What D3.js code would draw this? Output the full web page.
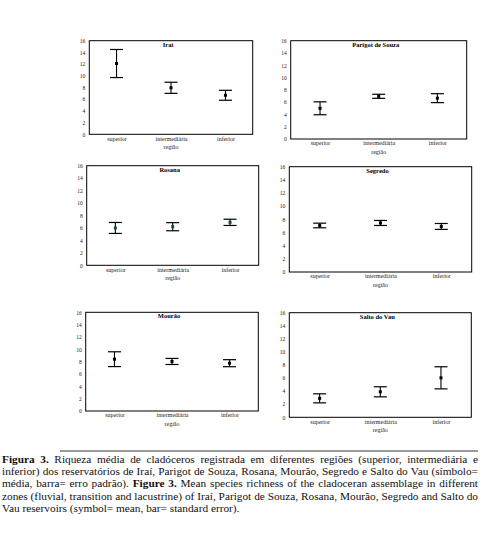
<!DOCTYPE html>
<html>
<head>
<meta charset="utf-8">
<script src="https://cdn.jsdelivr.net/npm/d3@7"></script>
<style>
  body { margin: 0; background: #fff; }
  svg { display: block; }
  svg text { font-family: 'Liberation Serif', 'Times New Roman', serif; }
</style>
</head>
<body>
<script>
// data
const regions = ['superior', 'intermediária', 'inferior']
const reservoirs = ['Iraí', 'Parigot de Souza', 'Rosana', 'Segredo', 'Mourão', 'Salto do Vau']
const yTicks = [0, 2, 4, 6, 8, 10, 12, 14, 16]

const meanIrai = [12.1, 7.95, 6.67]
const seIrai = [2.4, 0.95, 0.85]
const meanParigot = [5.0, 6.95, 6.65]
const seParigot = [1.05, 0.33, 0.73]
const meanRosana = [6.0, 6.2, 6.9]
const seRosana = [0.88, 0.65, 0.5]
const meanSegredo = [7.07, 7.45, 6.92]
const seSegredo = [0.35, 0.38, 0.45]
const meanMourao = [8.4, 8.03, 7.75]
const seMourao = [1.2, 0.49, 0.57]
const meanSalto = [2.9, 3.9, 6.04]
const seSalto = [0.69, 0.77, 1.69]

const means = [meanIrai, meanParigot, meanRosana, meanSegredo, meanMourao, meanSalto]
const errors = [seIrai, seParigot, seRosana, seSegredo, seMourao, seSalto]

// frame of each panel: left, top, right, bottom
const frames = [
    [89.3, 40.7, 252.7, 134.3],
    [290.7, 40.7, 466.7, 139],
    [86.7, 165.7, 258.7, 265.3],
    [289.3, 166.7, 471.7, 272],
    [85.7, 312.3, 258.3, 411],
    [289.3, 312.7, 471.3, 417.3]
]
const markerColors = ['#000', '#000', '#14501e', '#000', '#000', '#000']

const W = 485, H = 541
const svg = d3.select('body').append('svg')
    .attr('width', W)
    .attr('height', H)

reservoirs.forEach((name, i) => {
    const [l, t, r, b] = frames[i]
    const x = d3.scalePoint().domain(regions).range([l, r]).padding(0.5)
    const y = d3.scaleLinear().domain([0, 16]).range([b, t])
    const g = svg.append('g')

    // y axis labels
    const ya = g.append('g')
        .attr('transform', 'translate(' + l + ',0)')
        .call(d3.axisLeft(y).tickValues(yTicks).tickSize(0).tickPadding(4))
    ya.select('.domain').remove()
    ya.selectAll('text')
        .attr('font-size', 5.5)
        .attr('fill', '#222')

    // x axis labels
    const xa = g.append('g')
        .attr('transform', 'translate(0,' + b + ')')
        .call(d3.axisBottom(x).tickSize(0).tickPadding(2))
    xa.select('.domain').remove()
    xa.selectAll('text')
        .attr('font-size', 6)
        .attr('fill', '#222')
    ya.attr('font-family', null)
    xa.attr('font-family', null)

    g.append('text')
        .attr('x', (l + r) / 2)
        .attr('y', b + 15)
        .attr('text-anchor', 'middle')
        .attr('font-size', 6)
        .attr('fill', '#222')
        .text('região')

    // frame
    g.append('rect')
        .attr('x', l).attr('y', t)
        .attr('width', r - l).attr('height', b - t)
        .attr('fill', 'none')
        .attr('stroke', '#000')
        .attr('stroke-width', 1)

    g.append('text')
        .attr('x', (l + r) / 2 - 3)
        .attr('y', t + 6)
        .attr('text-anchor', 'middle')
        .attr('font-weight', 'bold')
        .attr('font-size', 6.5)
        .text(name)

    const rows = regions.map((reg, j) => ({ reg, m: means[i][j], e: errors[i][j] }))

    // error bars
    const bars = g.selectAll('.err').data(rows).enter().append('g').attr('class', 'err')
    bars.append('line')
        .attr('x1', d => x(d.reg)).attr('x2', d => x(d.reg))
        .attr('y1', d => y(d.m + d.e)).attr('y2', d => y(d.m - d.e))
        .attr('stroke', '#000').attr('stroke-width', 1.1)
    bars.append('line')
        .attr('x1', d => x(d.reg) - 6.5).attr('x2', d => x(d.reg) + 6.5)
        .attr('y1', d => y(d.m + d.e)).attr('y2', d => y(d.m + d.e))
        .attr('stroke', '#000').attr('stroke-width', 1.2)
    bars.append('line')
        .attr('x1', d => x(d.reg) - 6.5).attr('x2', d => x(d.reg) + 6.5)
        .attr('y1', d => y(d.m - d.e)).attr('y2', d => y(d.m - d.e))
        .attr('stroke', '#000').attr('stroke-width', 1.2)
    bars.append('rect')
        .attr('x', d => x(d.reg) - 1.5).attr('y', d => y(d.m) - 1.5)
        .attr('width', 3).attr('height', 3)
        .attr('fill', markerColors[i])
})

// caption
svg.append('line')
    .attr('x1', 60).attr('x2', 478)
    .attr('y1', 451).attr('y2', 451)
    .attr('stroke', '#000').attr('stroke-width', 0.8)

const captionLines = [
    '**Figura 3.** Riqueza média de cladóceros registrada em diferentes regiões (superior, intermediária e',
    'inferior) dos reservatórios de Iraí, Parigot de Souza, Rosana, Mourão, Segredo e Salto do Vau (símbolo=',
    'média, barra= erro padrão). **Figure 3.** Mean species richness of the cladoceran assemblage in different',
    'zones (fluvial, transition and lacustrine) of Iraí, Parigot de Souza, Rosana, Mourão, Segredo and Salto do',
    'Vau reservoirs (symbol= mean, bar= standard error).'
]

const cap = svg.append('g')
const capX0 = 2, capX1 = 478

function splitWords(line) {
    const words = []
    line.split(/(\*\*[^*]+\*\*)/).forEach(part => {
        if (!part) return
        const bold = part.startsWith('**')
        const txt = bold ? part.slice(2, -2) : part
        txt.split(' ').filter(w => w).forEach(w => words.push({ w, bold }))
    })
    return words
}

// measure one line at 10px, words plus normal spaces
function lineWidth10(line) {
    const words = splitWords(line)
    let sum = 0
    words.forEach(d => {
        const t = cap.append('text').attr('font-size', 10)
            .attr('font-weight', d.bold ? 'bold' : 'normal').text(d.w)
        sum += t.node().getComputedTextLength()
        t.remove()
    })
    return sum + 2.5 * (words.length - 1)
}

// caption size: last line spans ~241px, and full lines must still fit
let capSize = 10 * 241 / lineWidth10(captionLines[4])
captionLines.slice(0, 4).forEach(line => {
    capSize = Math.min(capSize, 10 * (capX1 - capX0) / lineWidth10(line))
})

captionLines.forEach((line, k) => {
    const yy = 462.5 + k * 12.4
    const words = splitWords(line)
    const nodes = words.map(d => cap.append('text')
        .attr('y', yy)
        .attr('font-size', capSize)
        .attr('font-weight', d.bold ? 'bold' : 'normal')
        .attr('fill', '#111')
        .text(d.w))
    const widths = nodes.map(n => n.node().getComputedTextLength())
    const total = d3.sum(widths)
    const last = k === captionLines.length - 1
    const gap = last ? capSize * 0.25 : (capX1 - capX0 - total) / (words.length - 1)
    let cx = capX0
    nodes.forEach((n, j) => {
        n.attr('x', cx)
        cx += widths[j] + gap
    })
})
</script>
</body>
</html>
